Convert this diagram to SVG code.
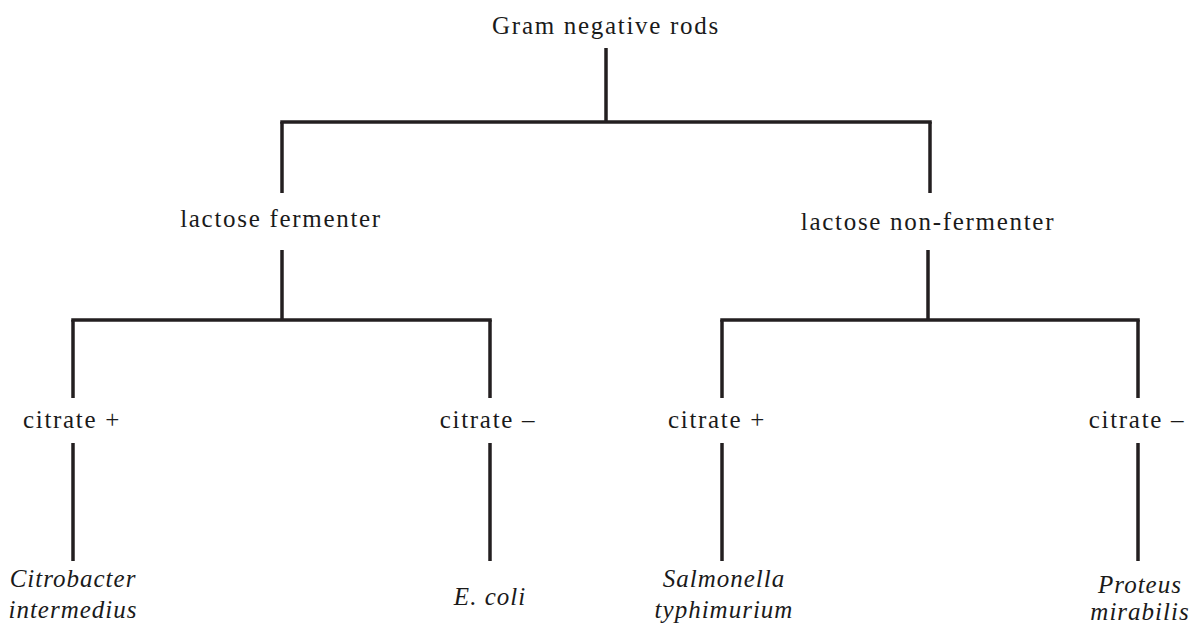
<svg xmlns="http://www.w3.org/2000/svg" width="1193" height="630" viewBox="0 0 1193 630">
<style>
text{font-family:"Liberation Serif","Times New Roman",serif;font-size:25px;fill:#1a1a1a;text-anchor:middle;letter-spacing:1.7px}
.it{font-style:italic;letter-spacing:1px}
.c line{stroke:#231f20;stroke-width:3.5;fill:none}
</style>
<rect width="1193" height="630" fill="#fff"/>
<g class="c" id="connectors">
<line x1="606" y1="48" x2="606" y2="122"/>
<line x1="280.250" y1="122" x2="931.750" y2="122"/>
<line x1="282" y1="122" x2="282" y2="193"/>
<line x1="930" y1="122" x2="930" y2="193"/>
<line x1="282" y1="250" x2="282" y2="320"/>
<line x1="928" y1="250" x2="928" y2="320"/>
<line x1="71.250" y1="320" x2="491.750" y2="320"/>
<line x1="720.250" y1="320" x2="1139.750" y2="320"/>
<line x1="73" y1="320" x2="73" y2="398"/>
<line x1="490" y1="320" x2="490" y2="398"/>
<line x1="722" y1="320" x2="722" y2="398"/>
<line x1="1138" y1="320" x2="1138" y2="398"/>
<line x1="73" y1="443" x2="73" y2="561"/>
<line x1="490" y1="443" x2="490" y2="561"/>
<line x1="722" y1="443" x2="722" y2="561"/>
<line x1="1138" y1="443" x2="1138" y2="561"/>
</g>
<g id="root"><text x="606" y="34">Gram negative rods</text></g>
<g id="lf"><text x="281" y="227">lactose fermenter</text></g>
<g id="lnf"><text x="928" y="230">lactose non-fermenter</text></g>
<g id="cp1"><text x="72" y="428">citrate +</text></g>
<g id="cm1"><text x="488" y="428">citrate –</text></g>
<g id="cp2"><text x="717" y="428">citrate +</text></g>
<g id="cm2"><text x="1137" y="428">citrate –</text></g>
<g id="citro"><text class="it" x="73" y="587">Citrobacter</text><text class="it" x="73" y="618">intermedius</text></g>
<g id="ecoli"><text class="it" x="490" y="605">E. coli</text></g>
<g id="salm"><text class="it" x="724" y="587" letter-spacing="0.6">Salmonella</text><text class="it" x="724" y="618" letter-spacing="0.6">typhimurium</text></g>
<g id="prot"><text class="it" x="1140" y="593" letter-spacing="0.6">Proteus</text><text class="it" x="1140" y="620" letter-spacing="0.6">mirabilis</text></g>
</svg>
